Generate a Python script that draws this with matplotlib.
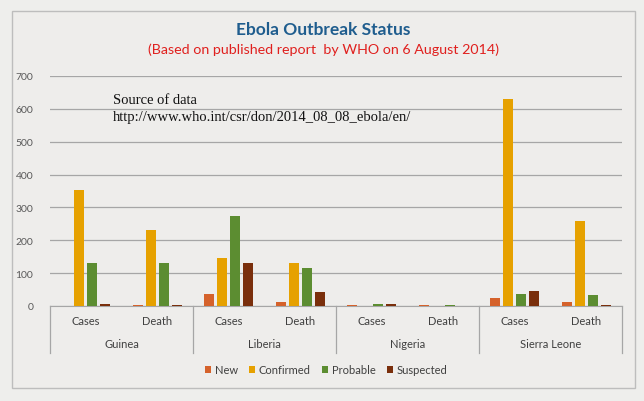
import numpy as np
import matplotlib.pyplot as plt
from matplotlib.patches import Rectangle
from matplotlib.transforms import blended_transform_factory

plt.rcParams['font.family'] = ['Lato', 'DejaVu Sans']

# Data
countries = ["Guinea", "Liberia", "Nigeria", "Sierra Leone"]
measures = ["Cases", "Death"]
series = ["New", "Confirmed", "Probable", "Suspected"]
new = [0, 3, 36, 13, 2, 2, 25, 13]
confirmed = [353, 232, 147, 131, 0, 0, 631, 259]
probable = [131, 131, 274, 115, 6, 2, 36, 33]
suspected = [6, 3, 131, 44, 6, 0, 45, 3]
colors = ["#D5622B", "#E6A100", "#5C8D31", "#7A2F0C"]

values = [new, confirmed, probable, suspected]
n = len(countries) * len(measures)
x = np.arange(n)

fig = plt.figure(figsize=(6.44, 4.02), dpi=100, facecolor="#EEEEEC")
fig.patches.append(Rectangle((12 / 644, 1 - 389 / 402), 623 / 644, 377 / 402,
                             transform=fig.transFigure, facecolor="#EEEDEB",
                             edgecolor="#BDBDBD", linewidth=1, zorder=-1))

ax = fig.add_axes([50 / 644, 1 - 307 / 402, 572 / 644, 230 / 402])
ax.set_facecolor("none")

step = 0.182
width = 0.14
for i, (vals, c, name) in enumerate(zip(values, colors, series)):
    ax.bar(x + (i - 1.5) * step, vals, width=width, color=c, label=name, zorder=3)

ax.set_xlim(-0.5, n - 0.5)
ax.set_ylim(0, 700)
ax.set_yticks(range(0, 701, 100))
ax.yaxis.grid(True, color="#A6A6A6", linewidth=0.9)
ax.tick_params(axis="y", length=0, labelsize=7.5, labelcolor="#595959", pad=12)
ax.set_xticks([])
for s in ["top", "right", "left"]:
    ax.spines[s].set_visible(False)
ax.spines["bottom"].set_color("#A6A6A6")

# two level category axis
trans = blended_transform_factory(ax.transData, ax.transAxes)
for b in np.arange(-0.5, n, 2):
    ax.plot([b, b], [0, -0.205], transform=trans, color="#A6A6A6",
            linewidth=0.9, clip_on=False)
for k in range(n):
    ax.text(x[k], -0.065, measures[k % 2], transform=trans, ha="center",
            va="center", fontsize=8, color="#404040")
for g, name in enumerate(countries):
    ax.text(2 * g + 0.5, -0.165, name, transform=trans, ha="center",
            va="center", fontsize=8, color="#404040")

fig.text(323 / 644, 1 - 30 / 402, "Ebola Outbreak Status", ha="center",
         va="center", fontsize=12.5, fontweight="bold", color="#1F5D8E")
fig.text(323 / 644, 1 - 50 / 402, "(Based on published report  by WHO on 6 August 2014)",
         ha="center", va="center", fontsize=10.3, color="#E0201E")

ax.text(113 / 644, 1 - 109 / 402, "Source of data\nhttp://www.who.int/csr/don/2014_08_08_ebola/en/",
        transform=fig.transFigure, ha="left", va="center", fontsize=10.5,
        family=["Liberation Serif"], linespacing=1.4, color="#111111")

fig.legend(loc="center", bbox_to_anchor=(326 / 644, 1 - 371 / 402), ncol=4,
           frameon=False, fontsize=8, handlelength=0.6, handleheight=0.6,
           handletextpad=0.3, columnspacing=1.0, labelcolor="#404040")

fig.savefig("out.png", dpi=100, facecolor=fig.get_facecolor())
